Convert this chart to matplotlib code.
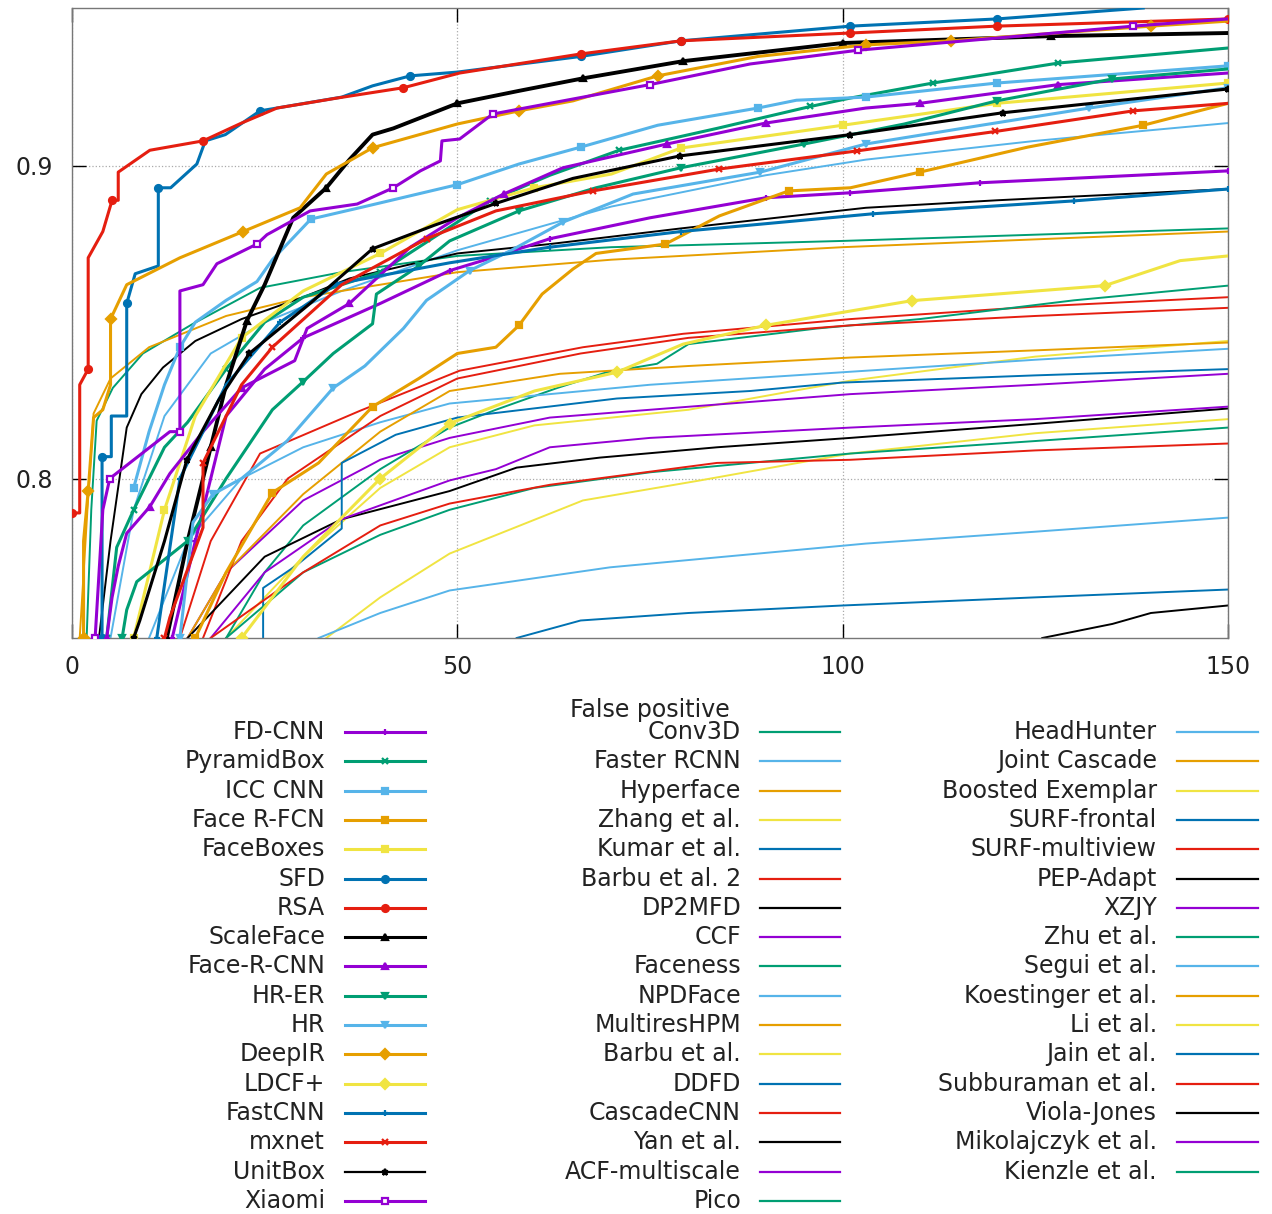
import matplotlib
matplotlib.use("Agg")
import matplotlib.pyplot as plt
from matplotlib.lines import Line2D

# ---- data (false positives vs. true positive rate) ----
fdcnn_fp = [13, 16, 20, 25, 30, 40, 49, 55, 62, 75, 90, 101, 117.8, 150]
fdcnn_tp = [0.749, 0.78, 0.82, 0.835, 0.845, 0.856, 0.8665, 0.871, 0.8767, 0.8834, 0.8898, 0.8914, 0.8946, 0.8984]

pyramidbox_fp = [4.5, 5.8, 8, 12, 15, 20, 25, 30, 40, 50, 54.2, 62, 71, 83.7, 95.8, 101, 111.7, 128, 150]
pyramidbox_tp = [0.749, 0.778, 0.79, 0.81, 0.818, 0.835, 0.85, 0.858, 0.866, 0.882, 0.8888, 0.897, 0.905, 0.912, 0.919, 0.9217, 0.9265, 0.9329, 0.9377]

icccnn_fp = [8, 10, 12, 14, 16, 20, 24, 26, 31, 38, 50, 58, 66, 76, 89, 94, 103, 120, 150]
icccnn_tp = [0.797, 0.815, 0.83, 0.842, 0.85, 0.857, 0.863, 0.870, 0.883, 0.887, 0.894, 0.9006, 0.906, 0.913, 0.9185, 0.921, 0.922, 0.9265, 0.932]

facerfcn_fp = [16, 20, 26, 32, 39, 45, 50, 55, 58, 61, 65, 68, 77, 84, 93, 101, 110, 124, 139, 150]
facerfcn_tp = [0.749, 0.77, 0.7955, 0.805, 0.823, 0.832, 0.840, 0.842, 0.849, 0.859, 0.867, 0.872, 0.875, 0.884, 0.892, 0.893, 0.898, 0.906, 0.913, 0.920]

faceboxes_fp = [8, 12, 16, 22, 30, 40, 50, 60, 70, 79, 100, 120, 150]
faceboxes_tp = [0.749, 0.79, 0.82, 0.845, 0.86, 0.872, 0.886, 0.893, 0.8974, 0.9057, 0.913, 0.92, 0.9265]

sfd_fp = [3.9, 3.9, 5.1, 5.1, 7.1, 7.1, 8.2, 11.2, 11.2, 12.8, 16.2, 17.3, 19.9, 24.4, 35, 39, 43.9, 50, 66, 79, 101, 120, 139]
sfd_tp = [0.749, 0.807, 0.807, 0.82, 0.82, 0.856, 0.8655, 0.868, 0.893, 0.893, 0.9006, 0.908, 0.910, 0.9176, 0.922, 0.9256, 0.9288, 0.930, 0.935, 0.940, 0.9447, 0.947, 0.9505]

rsa_fp = [0, 1, 1, 2.1, 2.1, 4, 5.2, 6, 6, 10.1, 17, 22, 26.6, 34.4, 43, 50.3, 66, 79, 101, 120, 150]
rsa_tp = [0.789, 0.789, 0.83, 0.835, 0.8706, 0.879, 0.889, 0.889, 0.898, 0.905, 0.908, 0.9137, 0.9185, 0.9217, 0.925, 0.9297, 0.9358, 0.940, 0.9425, 0.9447, 0.947]

scaleface_fp = [12.3, 15, 18, 20, 22.7, 25, 28.7, 33, 36, 39, 41.7, 50, 58, 66.3, 79.3, 100, 127, 150]
scaleface_tp = [0.749, 0.78, 0.81, 0.83, 0.8505, 0.862, 0.8834, 0.893, 0.902, 0.910, 0.912, 0.920, 0.924, 0.928, 0.9335, 0.9393, 0.9415, 0.9425]

facercnn_fp = [4.5, 5.2, 6, 7.1, 10.1, 12.7, 17, 22, 28.9, 30.5, 36, 43.9, 50, 56, 63.7, 77.2, 90, 103, 110, 128, 150]
facercnn_tp = [0.749, 0.762, 0.772, 0.7825, 0.791, 0.8016, 0.815, 0.829, 0.8377, 0.848, 0.856, 0.874, 0.8834, 0.891, 0.8994, 0.907, 0.9137, 0.9185, 0.920, 0.926, 0.9297]

hrer_fp = [6.5, 7.1, 8.4, 15, 20, 26, 30, 33.9, 39, 39.5, 45, 49, 58, 68, 79, 95, 108, 120, 135, 150]
hrer_tp = [0.749, 0.758, 0.767, 0.78, 0.80, 0.822, 0.831, 0.840, 0.8495, 0.859, 0.868, 0.876, 0.8856, 0.893, 0.8994, 0.907, 0.9134, 0.9208, 0.9278, 0.931]

hr_fp = [14, 15.7, 18.3, 22, 27.9, 33.9, 38, 43, 46, 51.6, 57, 63.7, 72.8, 89.3, 103, 118, 132, 150]
hr_tp = [0.749, 0.786, 0.795, 0.80, 0.812, 0.829, 0.836, 0.848, 0.857, 0.8665, 0.873, 0.882, 0.891, 0.898, 0.907, 0.913, 0.9185, 0.925]

deepir_fp = [1.5, 1.5, 2.1, 2.8, 4, 5, 5, 7.1, 14, 22.2, 29.6, 33, 39, 50, 58, 65, 76, 89, 103, 114, 140, 150]
deepir_tp = [0.749, 0.78, 0.796, 0.8195, 0.822, 0.83, 0.851, 0.862, 0.8706, 0.879, 0.8866, 0.8974, 0.9058, 0.9134, 0.9176, 0.9208, 0.9288, 0.935, 0.9387, 0.940, 0.9447, 0.9463]

ldcf_fp = [22, 30, 40, 49, 60, 70.7, 79.3, 90, 109, 134, 143.8, 150]
ldcf_tp = [0.749, 0.775, 0.80, 0.8176, 0.828, 0.834, 0.843, 0.849, 0.8569, 0.8617, 0.8697, 0.8712]

fastcnn_fp = [11, 14, 20, 27, 34.4, 49, 62, 79, 104, 130, 150]
fastcnn_tp = [0.749, 0.80, 0.83, 0.85, 0.8623, 0.869, 0.874, 0.879, 0.8847, 0.8888, 0.8926]

mxnet_fp = [12, 12.7, 17, 17, 22, 26, 35, 46, 55, 67.6, 84, 101.9, 119.8, 137.7, 150]
mxnet_tp = [0.749, 0.7556, 0.7843, 0.805, 0.83, 0.842, 0.862, 0.8767, 0.8856, 0.892, 0.899, 0.9048, 0.911, 0.9176, 0.920]

unitbox_fp = [8, 8.8, 12, 14.9, 19, 23, 30.9, 39, 47, 55, 65, 78.9, 101, 120.8, 150]
unitbox_tp = [0.749, 0.7546, 0.78, 0.806, 0.825, 0.840, 0.856, 0.8735, 0.881, 0.888, 0.896, 0.9032, 0.910, 0.917, 0.9246]

xiaomi_fp = [3, 4, 4.9, 12.7, 14, 14, 17, 18.8, 24, 25.3, 30.9, 37, 41.7, 45.2, 47.8, 48, 50.3, 54.6, 75, 88, 102, 137.7, 150]
xiaomi_tp = [0.749, 0.79, 0.80, 0.815, 0.815, 0.86, 0.862, 0.8687, 0.875, 0.878, 0.8856, 0.8878, 0.893, 0.8984, 0.9016, 0.908, 0.9086, 0.9166, 0.926, 0.9326, 0.937, 0.9447, 0.947]

conv3d_fp = [1.9, 2.5, 3.2, 5.3, 9.2, 15.7, 24.4, 35, 50, 70, 100, 125, 150]
conv3d_tp = [0.749, 0.79, 0.8185, 0.829, 0.840, 0.8495, 0.861, 0.866, 0.8712, 0.874, 0.876, 0.878, 0.880]

fasterrcnn_fp = [5, 8, 12, 18, 25, 35, 50, 70, 90, 103, 125, 150]
fasterrcnn_tp = [0.749, 0.79, 0.82, 0.84, 0.85, 0.86, 0.873, 0.887, 0.897, 0.902, 0.908, 0.9137]

hyperface_fp = [1, 2, 2.8, 5, 10, 20, 30, 40, 50, 70, 100, 125, 150]
hyperface_tp = [0.749, 0.79, 0.8208, 0.832, 0.842, 0.852, 0.858, 0.862, 0.866, 0.870, 0.874, 0.8765, 0.879]

zhang_fp = [20, 30, 40, 49, 60, 80, 101, 125, 150]
zhang_tp = [0.749, 0.775, 0.797, 0.81, 0.817, 0.822, 0.8313, 0.839, 0.844]

kumar_fp = [57.7, 66, 80, 100, 125, 150]
kumar_tp = [0.749, 0.7546, 0.757, 0.7594, 0.762, 0.7645]

barbu2_fp = [14, 18, 24.4, 37.4, 50.3, 66.3, 79.3, 101, 125, 150]
barbu2_tp = [0.749, 0.78, 0.808, 0.8217, 0.8345, 0.842, 0.8463, 0.851, 0.855, 0.858]

dp2mfd_fp = [3.5, 5, 7.1, 9, 11.8, 16, 22, 30, 36, 50, 62, 79, 103, 120, 150]
dp2mfd_tp = [0.749, 0.78, 0.8163, 0.827, 0.8355, 0.844, 0.851, 0.858, 0.864, 0.872, 0.875, 0.880, 0.8866, 0.889, 0.8926]

ccf_fp = [15, 20, 30, 40, 49, 62, 75, 101, 125, 150]
ccf_tp = [0.749, 0.77, 0.793, 0.806, 0.813, 0.8195, 0.822, 0.827, 0.830, 0.8335]

faceness_fp = [20, 25, 30, 40, 49, 55, 63, 69.4, 75.9, 80, 96.7, 110, 130, 150]
faceness_tp = [0.749, 0.77, 0.785, 0.803, 0.8163, 0.822, 0.829, 0.834, 0.8367, 0.843, 0.848, 0.851, 0.857, 0.8617]

npdface_fp = [10, 15, 22, 30, 40, 49, 75, 100, 125, 150]
npdface_tp = [0.749, 0.78, 0.80, 0.81, 0.818, 0.824, 0.830, 0.834, 0.838, 0.8415]

multireshpm_fp = [15, 20, 30, 40, 49, 63.3, 80, 101, 125, 150]
multireshpm_tp = [0.749, 0.77, 0.795, 0.815, 0.828, 0.8335, 0.836, 0.8387, 0.841, 0.8435]

barbu_fp = [33, 40, 49, 66.3, 81.5, 101, 125, 150]
barbu_tp = [0.749, 0.762, 0.776, 0.793, 0.7994, 0.808, 0.8145, 0.819]

ddfd_fp = [24.8, 24.8, 29, 35, 35, 42, 50, 70.7, 88, 100, 125, 150]
ddfd_tp = [0.749, 0.765, 0.772, 0.784, 0.805, 0.814, 0.8195, 0.8256, 0.828, 0.8307, 0.833, 0.835]

cascadecnn_fp = [17, 22, 28, 40, 50, 66, 80, 101, 125, 150]
cascadecnn_tp = [0.749, 0.78, 0.80, 0.82, 0.832, 0.840, 0.845, 0.849, 0.852, 0.8546]

yan_fp = [15, 25, 35, 49, 57.7, 68.5, 83.7, 101, 125, 150]
yan_tp = [0.749, 0.775, 0.787, 0.796, 0.8035, 0.8067, 0.810, 0.813, 0.8175, 0.8224]

acf_fp = [18, 25, 35, 49, 55, 62, 75, 101, 125, 150]
acf_tp = [0.749, 0.77, 0.787, 0.7994, 0.803, 0.81, 0.813, 0.8163, 0.819, 0.823]

pico_fp = [20, 30, 40, 49, 60, 75, 101, 125, 150]
pico_tp = [0.749, 0.77, 0.782, 0.79, 0.797, 0.802, 0.808, 0.812, 0.8163]

headhunter_fp = [32, 40, 49, 69.8, 103, 125, 150]
headhunter_tp = [0.749, 0.757, 0.7642, 0.7716, 0.7792, 0.783, 0.7875]

surfmv_fp = [18, 30, 40, 49, 62, 83.7, 101, 125, 150]
surfmv_tp = [0.749, 0.77, 0.785, 0.792, 0.798, 0.805, 0.806, 0.809, 0.8112]

pepadapt_fp = [125.9, 135, 140, 150]
pepadapt_tp = [0.749, 0.7535, 0.757, 0.7594]

# methods whose curves stay below the visible range (legend only)
none_fp = []
none_tp = []

names = ["FD-CNN", "PyramidBox", "ICC CNN", "Face R-FCN", "FaceBoxes", "SFD", "RSA", "ScaleFace",
         "Face-R-CNN", "HR-ER", "HR", "DeepIR", "LDCF+", "FastCNN", "mxnet", "UnitBox", "Xiaomi",
         "Conv3D", "Faster RCNN", "Hyperface", "Zhang et al.", "Kumar et al.", "Barbu et al. 2",
         "DP2MFD", "CCF", "Faceness", "NPDFace", "MultiresHPM", "Barbu et al.", "DDFD", "CascadeCNN",
         "Yan et al.", "ACF-multiscale", "Pico",
         "HeadHunter", "Joint Cascade", "Boosted Exemplar", "SURF-frontal", "SURF-multiview",
         "PEP-Adapt", "XZJY", "Zhu et al.", "Segui et al.", "Koestinger et al.", "Li et al.",
         "Jain et al.", "Subburaman et al.", "Viola-Jones", "Mikolajczyk et al.", "Kienzle et al."]

curves = [(fdcnn_fp, fdcnn_tp), (pyramidbox_fp, pyramidbox_tp), (icccnn_fp, icccnn_tp),
          (facerfcn_fp, facerfcn_tp), (faceboxes_fp, faceboxes_tp), (sfd_fp, sfd_tp),
          (rsa_fp, rsa_tp), (scaleface_fp, scaleface_tp), (facercnn_fp, facercnn_tp),
          (hrer_fp, hrer_tp), (hr_fp, hr_tp), (deepir_fp, deepir_tp), (ldcf_fp, ldcf_tp),
          (fastcnn_fp, fastcnn_tp), (mxnet_fp, mxnet_tp), (unitbox_fp, unitbox_tp),
          (xiaomi_fp, xiaomi_tp), (conv3d_fp, conv3d_tp), (fasterrcnn_fp, fasterrcnn_tp),
          (hyperface_fp, hyperface_tp), (zhang_fp, zhang_tp), (kumar_fp, kumar_tp),
          (barbu2_fp, barbu2_tp), (dp2mfd_fp, dp2mfd_tp), (ccf_fp, ccf_tp),
          (faceness_fp, faceness_tp), (npdface_fp, npdface_tp), (multireshpm_fp, multireshpm_tp),
          (barbu_fp, barbu_tp), (ddfd_fp, ddfd_tp), (cascadecnn_fp, cascadecnn_tp),
          (yan_fp, yan_tp), (acf_fp, acf_tp), (pico_fp, pico_tp),
          (headhunter_fp, headhunter_tp), (none_fp, none_tp), (none_fp, none_tp),
          (none_fp, none_tp), (surfmv_fp, surfmv_tp), (pepadapt_fp, pepadapt_tp),
          (none_fp, none_tp), (none_fp, none_tp), (none_fp, none_tp), (none_fp, none_tp),
          (none_fp, none_tp), (none_fp, none_tp), (none_fp, none_tp), (none_fp, none_tp),
          (none_fp, none_tp), (none_fp, none_tp)]

# gnuplot-like colour cycle
palette = ["#9400D3", "#009E73", "#56B4E9", "#E69F00", "#F0E442", "#0072B2", "#E51E10", "#000000"]
markers = ["+", "x", "s", "s", "s", "o", "o", "^", "^", "v", "v", "D", "D", "+", "x", "*", "s"]

fig = plt.figure(figsize=(12.72, 12.14), dpi=100)
W, H = 1272, 1214
ax = fig.add_axes([72 / W, 1 - 638 / H, (1228 - 72) / W, (638 - 8) / H])

for i, (name, (fp, tp)) in enumerate(zip(names, curves)):
    color = palette[i % 8]
    if i < len(markers):
        mfc = "white" if name == "Xiaomi" else color
        lw = 2.8 if name == "ScaleFace" else 2.2
        ax.plot(fp, tp, color=color, lw=lw, marker=markers[i], ms=5, mew=1.6,
                mfc=mfc, markevery=0.12, zorder=3)
    else:
        ax.plot(fp, tp, color=color, lw=1.4, zorder=2)

ax.set_xlim(0, 150)
ax.set_ylim(0.749, 0.9505)
ax.set_xticks([0, 50, 100, 150])
ax.set_yticks([0.8, 0.9])
ax.set_yticklabels(["0.8", "0.9"])
ax.grid(True, linestyle=":", color="#aaaaaa", lw=0.9)
ax.tick_params(direction="in", length=10, width=1, top=True, right=True,
               labelsize=17, pad=14, labelcolor="#222222")
ax.tick_params(axis="x", pad=12)
for s in ax.spines.values():
    s.set_color("#777777")
    s.set_linewidth(1)

fig.text(650 / W, 1 - 710 / H, "False positive", ha="center", va="center", fontsize=17,
         color="#222222")

# legend drawn by hand: three columns, label right-aligned left of the sample line
col_text = [325, 741, 1157]
col_line = [(345, 425), (760, 840), (1177, 1258)]
col_size = [17, 17, 16]
k = 0
for c in range(3):
    for r in range(col_size[c]):
        name = names[k]
        py = 732 + r * 29.31
        fy = 1 - py / H
        color = palette[k % 8]
        fig.text(col_text[c] / W, fy, name, ha="right", va="center", fontsize=17, color="#222222")
        x0, x1 = col_line[c]
        if k < len(markers):
            lw = 1.6 if name == "UnitBox" else 2.2
            fig.add_artist(Line2D([x0 / W, x1 / W], [fy, fy], color=color, lw=lw))
            mfc = "white" if name == "Xiaomi" else color
            fig.add_artist(Line2D([(x0 + x1) / 2 / W], [fy], color=color, marker=markers[k],
                                  ms=5, mew=1.6, mfc=mfc, lw=0))
        else:
            fig.add_artist(Line2D([x0 / W, x1 / W], [fy, fy], color=color, lw=1.6))
        k += 1

fig.savefig("out.png", dpi=100)
